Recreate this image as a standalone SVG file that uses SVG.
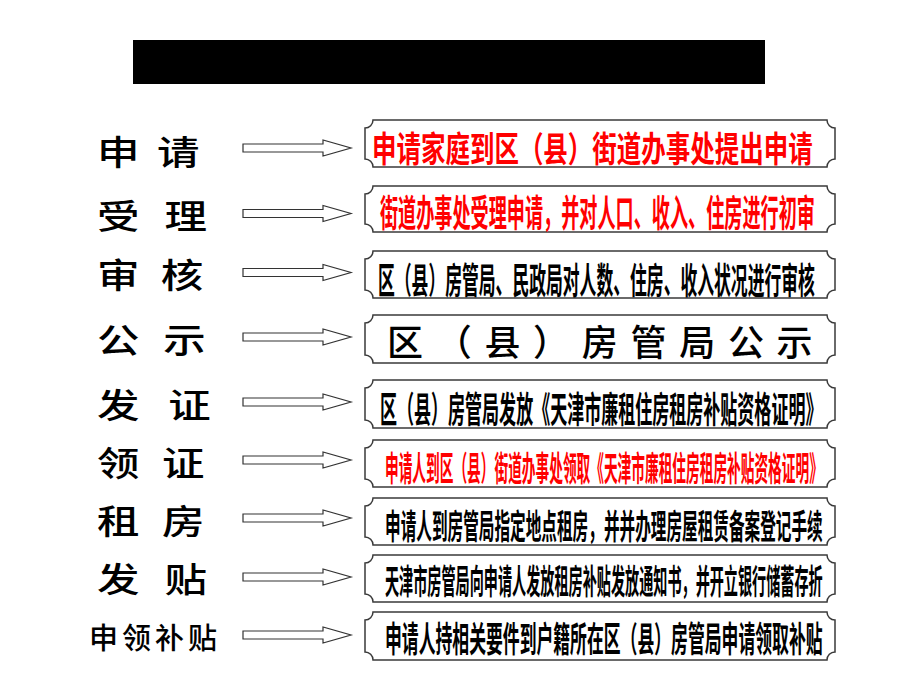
<svg xmlns="http://www.w3.org/2000/svg" width="920" height="690" viewBox="0 0 920 690">
<style>
.box{fill:#fff;stroke:#3a3a3a;stroke-width:1.5}
.arr{fill:#fff;stroke:#333;stroke-width:1.2}
.lbl{font-family:"Noto Sans CJK SC","Noto Sans",sans-serif;font-weight:500;font-size:34px;fill:#000;dominant-baseline:central}
.t{font-family:"Noto Sans CJK SC","Noto Sans",sans-serif;font-weight:bold;dominant-baseline:central}
.red{fill:#ff0000}
.blk{fill:#000}
</style>
<rect width="920" height="690" fill="#fff"/>
<rect id="title" x="133" y="40" width="632" height="44" fill="#000"/>

<g id="labels">
<g id="l1"><text class="lbl" transform="translate(97,150) scale(1.25,1)" letter-spacing="14">申请</text></g>
<g id="l2"><text class="lbl" transform="translate(97,214) scale(1.25,1)" letter-spacing="20">受理</text></g>
<g id="l3"><text class="lbl" transform="translate(97,273) scale(1.25,1)" letter-spacing="17">审核</text></g>
<g id="l4"><text class="lbl" transform="translate(97,338) scale(1.25,1)" letter-spacing="19">公示</text></g>
<g id="l5"><text class="lbl" transform="translate(97,403) scale(1.25,1)" letter-spacing="23">发证</text></g>
<g id="l6"><text class="lbl" transform="translate(97,461) scale(1.25,1)" letter-spacing="18">领证</text></g>
<g id="l7"><text class="lbl" transform="translate(97,519) scale(1.25,1)" letter-spacing="18">租房</text></g>
<g id="l8"><text class="lbl" transform="translate(97,577) scale(1.25,1)" letter-spacing="20">发贴</text></g>
<g id="l9"><text class="lbl" x="89" y="636" style="font-size:29px" letter-spacing="4">申领补贴</text></g>
</g>

<g id="connectors">
<polygon class="arr" points="243,144 323,144 323,140 351,148 323,156 323,152 243,152"/>
<polygon class="arr" points="243,209.5 323,209.5 323,205.5 351,213.5 323,221.5 323,217.5 243,217.5"/>
<polygon class="arr" points="243,268.5 323,268.5 323,264.5 351,272.5 323,280.5 323,276.5 243,276.5"/>
<polygon class="arr" points="243,333 323,333 323,329 351,337 323,345 323,341 243,341"/>
<polygon class="arr" points="243,398 323,398 323,394 351,402 323,410 323,406 243,406"/>
<polygon class="arr" points="243,456 323,456 323,452 351,460 323,468 323,464 243,464"/>
<polygon class="arr" points="243,514 323,514 323,510 351,518 323,526 323,522 243,522"/>
<polygon class="arr" points="243,573 323,573 323,569 351,577 323,585 323,581 243,581"/>
<polygon class="arr" points="243,631 323,631 323,627 351,635 323,643 323,639 243,639"/>
</g>

<g id="b1"><path class="box" d="M373,120 H827 A8,8 0 0 0 835,128 V159 A8,8 0 0 0 827,167 H373 A8,8 0 0 0 365,159 V128 A8,8 0 0 0 373,120 Z"/>
<text class="t red" transform="translate(372,146.5) scale(0.7,1)" font-size="35">申请家庭到区（县）街道办事处提出申请</text></g>

<g id="b2"><path class="box" d="M373,186 H827 A8,8 0 0 0 835,194 V224 A8,8 0 0 0 827,232 H373 A8,8 0 0 0 365,224 V194 A8,8 0 0 0 373,186 Z"/>
<text class="t red" transform="translate(380,210) scale(0.49,1)" font-size="37">街道办事处受理申请，并对人口、收入、住房进行初审</text></g>

<g id="b3"><path class="box" d="M373,251 H827 A8,8 0 0 0 835,259 V290 A8,8 0 0 0 827,298 H373 A8,8 0 0 0 365,290 V259 A8,8 0 0 0 373,251 Z"/>
<text class="t blk" transform="translate(378,277.5) scale(0.467,1)" font-size="36">区（县）房管局、民政局对人数、住房、收入状况进行审核</text></g>

<g id="b4"><path class="box" d="M373,315 H827 A8,8 0 0 0 835,323 V355 A8,8 0 0 0 827,363 H373 A8,8 0 0 0 365,355 V323 A8,8 0 0 0 373,315 Z"/>
<text class="t blk" x="387" y="340" font-size="36" style="font-weight:500" letter-spacing="12.7">区（县）房管局公示</text></g>

<g id="b5"><path class="box" d="M373,380 H827 A8,8 0 0 0 835,388 V420 A8,8 0 0 0 827,428 H373 A8,8 0 0 0 365,420 V388 A8,8 0 0 0 373,380 Z"/>
<text class="t blk" transform="translate(380,407.5) scale(0.473,1)" font-size="36">区（县）房管局发放《天津市廉租住房租房补贴资格证明》</text></g>

<g id="b6"><path class="box" d="M373,440 H827 A8,8 0 0 0 835,448 V479 A8,8 0 0 0 827,487 H373 A8,8 0 0 0 365,479 V448 A8,8 0 0 0 373,440 Z"/>
<text class="t red" transform="translate(385,466) scale(0.4026,1)" font-size="34">申请人到区（县）街道办事处领取《天津市廉租住房租房补贴资格证明》</text></g>

<g id="b7"><path class="box" d="M373,498 H827 A8,8 0 0 0 835,506 V537 A8,8 0 0 0 827,545 H373 A8,8 0 0 0 365,537 V506 A8,8 0 0 0 373,498 Z"/>
<text class="t blk" transform="translate(385,524) scale(0.46,1)" font-size="34">申请人到房管局指定地点租房，并并办理房屋租赁备案登记手续</text></g>

<g id="b8"><path class="box" d="M373,555 H827 A8,8 0 0 0 835,563 V594 A8,8 0 0 0 827,602 H373 A8,8 0 0 0 365,594 V563 A8,8 0 0 0 373,555 Z"/>
<text class="t blk" transform="translate(385,579) scale(0.4156,1)" font-size="34">天津市房管局向申请人发放租房补贴发放通知书，并开立银行储蓄存折</text></g>

<g id="b9"><path class="box" d="M373,612 H827 A8,8 0 0 0 835,620 V652 A8,8 0 0 0 827,660 H373 A8,8 0 0 0 365,652 V620 A8,8 0 0 0 373,612 Z"/>
<text class="t blk" transform="translate(385,636.5) scale(0.481,1)" font-size="35">申请人持相关要件到户籍所在区（县）房管局申请领取补贴</text></g>
</svg>
